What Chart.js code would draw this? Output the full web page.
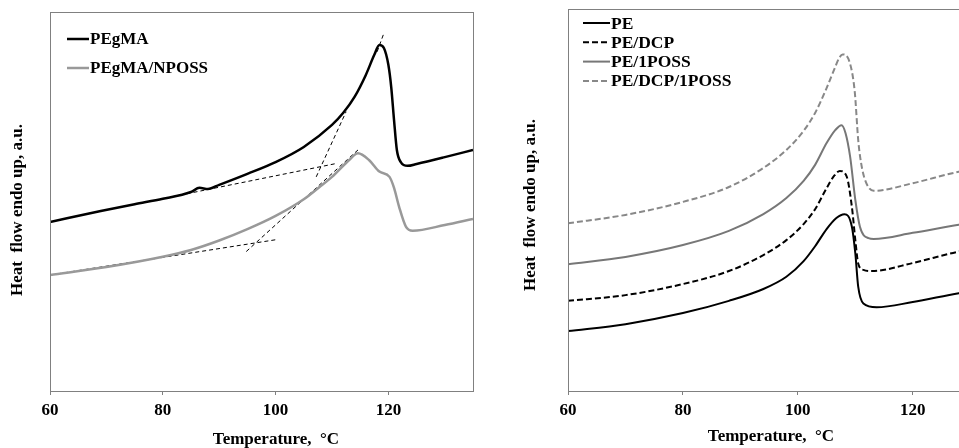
<!DOCTYPE html>
<html>
<head>
<meta charset="utf-8">
<script src="https://cdn.jsdelivr.net/npm/chart.js@4.4.1/dist/chart.umd.min.js"></script>
<style>
  html, body { margin: 0; padding: 0; background: #fff; overflow: hidden; width: 959px; height: 448px; }
  canvas { position: absolute; top: 0; }
  #leftChart { left: 0; }
  #rightChart { left: 480px; }
</style>
</head>
<body>
<canvas id="leftChart" width="480" height="448"></canvas>
<canvas id="rightChart" width="524" height="448"></canvas>
<script>
// x axis ticks (°C)
const tempTicks = [60, 80, 100, 120];
const xTitle = 'Temperature,  °C';
const yTitle = 'Heat  flow endo up, a.u.';

// Left panel: PEgMA and PEgMA/NPOSS (heat flow, arbitrary units)
const pegmaT = [60, 69, 75, 80, 85, 86.5, 88, 90, 95, 100, 105, 110, 112, 114, 116, 117.5, 118.4, 119.2, 120, 120.5, 121, 121.5, 122.2, 123.4, 125, 130, 135];
const pegmaHF = [44.6, 47.5, 49.3, 50.7, 52.5, 53.6, 53.3, 54.4, 57.3, 60.4, 64.4, 70.2, 73.4, 77.6, 83.4, 88.7, 91.3, 90.5, 86.0, 80.2, 71.5, 63.6, 60.4, 59.4, 59.9, 61.7, 63.6];
const npossT = [60, 70, 80, 85, 90, 95, 100, 105, 108, 110, 113, 114.6, 116.6, 118.4, 120.2, 121, 121.9, 123.1, 124.3, 130, 135];
const npossHF = [30.6, 32.7, 35.4, 37.2, 39.7, 42.7, 46.2, 50.6, 54.1, 56.5, 60.9, 62.7, 60.9, 57.9, 56.5, 53.6, 48.6, 43.4, 42.3, 43.8, 45.4];

// Left panel: tangent construction lines (start / end)
const tangentT = [[81.8, 111.0], [107.2, 112.5], [118.0, 119.1], [60, 100.4], [94.8, 114.9]];
const tangentHF = [[51.3, 60.1], [56.5, 73.7], [89.5, 94.0], [30.6, 40.0], [36.8, 64.0]];

// Right panel
const peT = [60, 70, 80, 88, 94, 98, 101, 103, 105, 106.7, 108.1, 109.4, 110, 110.5, 111.4, 113.7, 120, 128, 135];
const peHF = [15.7, 17.5, 20.4, 23.6, 26.7, 29.9, 34.0, 37.9, 42.4, 45.3, 46.3, 43.0, 36.0, 27.3, 22.9, 21.9, 23.3, 25.6, 27.2];
const peDcpT = [60, 70, 80, 88, 94, 98, 101, 103, 105, 106.3, 107.3, 108.5, 109.4, 110, 110.5, 111.4, 112.9, 120, 128, 135];
const peDcpHF = [23.6, 25.1, 28.0, 31.4, 35.6, 39.5, 43.7, 47.6, 53.1, 56.3, 57.6, 56.1, 48.2, 39.5, 33.4, 31.7, 31.4, 33.5, 36.5, 38.2];
const pePossT = [60, 70, 80, 88, 94, 98, 101, 103, 105, 106.5, 107.6, 108.3, 109.1, 110, 110.8, 112.3, 113.2, 120, 128, 135];
const pePossHF = [33.2, 35.1, 38.2, 41.9, 46.3, 50.5, 55.0, 59.2, 64.9, 68.3, 69.6, 67.5, 61.3, 50.0, 43.0, 40.0, 39.8, 41.4, 43.5, 45.0];
const peDcpPossT = [60, 70, 80, 88, 94, 98, 101, 103, 105, 106.5, 107.2, 107.8, 109.0, 109.9, 110.5, 111.0, 111.7, 113.2, 120, 128, 135];
const peDcpPossHF = [43.9, 46.1, 49.5, 53.4, 58.4, 63.1, 68.1, 72.8, 79.3, 84.8, 87.2, 88.1, 86.1, 78.3, 65.7, 59.7, 55.2, 52.4, 54.4, 57.4, 59.2];

const toPoints = (xs, ys) => xs.map((x, i) => ({ x: x, y: ys[i] }));

const serif = "'Liberation Serif', 'Times New Roman', serif";
Chart.defaults.font.family = serif;
Chart.defaults.font.weight = 'bold';
Chart.defaults.color = '#000';

// box around the plot area
const boxPlugin = {
    id: 'box',
    afterDraw(chart) {
        const a = chart.chartArea;
        const ctx = chart.ctx;
        ctx.save();
        ctx.strokeStyle = '#808080';
        ctx.lineWidth = 1;
        ctx.strokeRect(a.left + 0.5, a.top + 0.5, a.right - a.left, a.bottom - a.top);
        ctx.restore();
    }
};

// axis titles placed where the figure has them
const axisTitles = {
    id: 'axisTitles',
    afterDraw(chart, args, opts) {
        const ctx = chart.ctx;
        ctx.save();
        ctx.font = 'bold 17px ' + serif;
        ctx.fillStyle = '#000';
        ctx.textAlign = 'center';
        ctx.textBaseline = 'middle';
        ctx.fillText(xTitle, opts.xx, opts.xy);
        ctx.translate(opts.yx, opts.yy);
        ctx.rotate(-Math.PI / 2);
        ctx.fillText(yTitle, 0, 0);
        ctx.restore();
    }
};

// legend drawn inside the plot, one row per series
const insideLegend = {
    id: 'insideLegend',
    afterDraw(chart, args, opts) {
        const ctx = chart.ctx;
        ctx.save();
        ctx.font = 'bold ' + opts.size + 'px ' + serif;
        ctx.textBaseline = 'middle';
        let row = 0;
        chart.data.datasets.forEach(ds => {
            if (!ds.label) return;
            const y = opts.y + row * opts.gap;
            ctx.beginPath();
            ctx.setLineDash(ds.borderDash || []);
            ctx.strokeStyle = ds.borderColor;
            ctx.lineWidth = ds.borderWidth;
            ctx.moveTo(opts.x, y);
            ctx.lineTo(opts.x + opts.len, y);
            ctx.stroke();
            ctx.setLineDash([]);
            ctx.fillStyle = '#000';
            ctx.fillText(ds.label, opts.x + opts.len + 1, y + 1);
            row++;
        });
        ctx.restore();
    }
};

function axes(yWidth, xMax) {
    return {
        x: {
            type: 'linear',
            min: 60,
            max: xMax,
            afterFit: s => { s.height = 57; },
            afterBuildTicks: s => { s.ticks = tempTicks.map(v => ({ value: v })); },
            ticks: { font: { size: 17, weight: 'bold' }, padding: 5, color: '#000' },
            grid: { drawOnChartArea: false, drawTicks: true, tickLength: 4, color: '#808080' },
            border: { color: '#808080' }
        },
        y: {
            min: 0,
            max: 100,
            afterFit: s => { s.width = yWidth; },
            ticks: { display: false },
            grid: { display: false },
            border: { color: '#808080' }
        }
    };
}

// Left chart
const tangentSets = tangentT.map((t, i) => ({
    data: toPoints(t, tangentHF[i]),
    borderColor: '#000',
    borderWidth: 1,
    borderDash: [4, 3],
    pointRadius: 0
}));

new Chart(document.getElementById('leftChart').getContext('2d'), {
    type: 'line',
    data: {
        datasets: [
            { label: 'PEgMA', data: toPoints(pegmaT, pegmaHF), borderColor: '#000', borderWidth: 2.5, pointRadius: 0, cubicInterpolationMode: 'monotone' },
            { label: 'PEgMA/NPOSS', data: toPoints(npossT, npossHF), borderColor: '#999', borderWidth: 2.5, pointRadius: 0, cubicInterpolationMode: 'monotone' }
        ].concat(tangentSets)
    },
    options: {
        responsive: false,
        animation: false,
        layout: { padding: { top: 12, right: 7, bottom: 0, left: 0 } },
        plugins: {
            legend: { display: false },
            tooltip: { enabled: false },
            insideLegend: { x: 67, y: 39, gap: 29, len: 22, size: 17 },
            axisTitles: { xx: 276, xy: 440, yx: 18, yy: 210 }
        },
        scales: axes(50, 135)
    },
    plugins: [boxPlugin, insideLegend, axisTitles]
});

// Right chart
new Chart(document.getElementById('rightChart').getContext('2d'), {
    type: 'line',
    data: {
        datasets: [
            { label: 'PE', data: toPoints(peT, peHF), borderColor: '#000', borderWidth: 2, pointRadius: 0, cubicInterpolationMode: 'monotone' },
            { label: 'PE/DCP', data: toPoints(peDcpT, peDcpHF), borderColor: '#000', borderWidth: 2, borderDash: [6, 3], pointRadius: 0, cubicInterpolationMode: 'monotone' },
            { label: 'PE/1POSS', data: toPoints(pePossT, pePossHF), borderColor: '#777', borderWidth: 2, pointRadius: 0, cubicInterpolationMode: 'monotone' },
            { label: 'PE/DCP/1POSS', data: toPoints(peDcpPossT, peDcpPossHF), borderColor: '#888', borderWidth: 2, borderDash: [6, 3], pointRadius: 0, cubicInterpolationMode: 'monotone' }
        ]
    },
    options: {
        responsive: false,
        animation: false,
        layout: { padding: { top: 9, right: 5, bottom: 0, left: 0 } },
        plugins: {
            legend: { display: false },
            tooltip: { enabled: false },
            insideLegend: { x: 103, y: 23, gap: 19.3, len: 27, size: 17.5 },
            axisTitles: { xx: 291, xy: 437, yx: 51, yy: 205 }
        },
        scales: axes(88, 135)
    },
    plugins: [boxPlugin, insideLegend, axisTitles]
});
</script>
</body>
</html>
